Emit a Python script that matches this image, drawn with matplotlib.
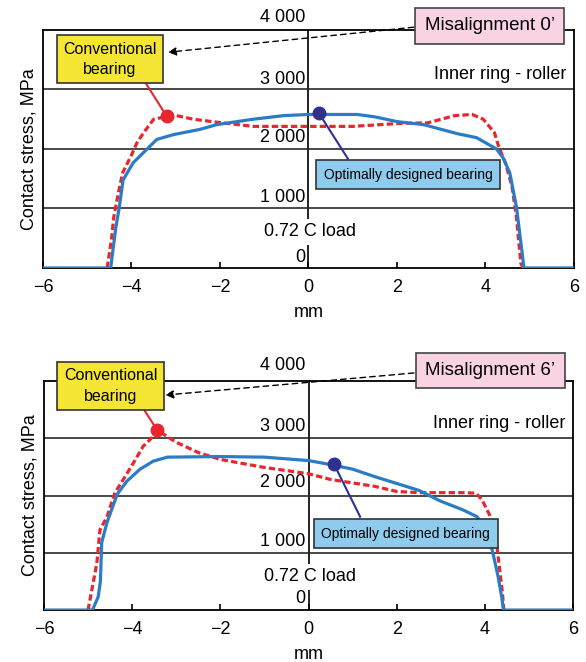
import matplotlib
matplotlib.use("Agg")
import matplotlib.pyplot as plt
from matplotlib import font_manager


def pick_font(*names):
    for name in names:
        try:
            font_manager.findfont(name, fallback_to_default=False)
            return name
        except Exception:
            pass
    return "DejaVu Sans"


MAIN_FONT = pick_font("Liberation Sans", "Arial")
plt.rcParams["font.family"] = [MAIN_FONT, "DejaVu Sans"]

# --- data, misalignment 0' ---
top_opt_x = [-6, -4.47, -4.42, -4.35, -4.28, -4.19, -3.96, -3.66, -3.43, -3.06, -2.45, -2.07, -1.25,
             -0.57, 0.0, 1.1, 1.5, 2.0, 2.6, 3.35, 3.8, 4.25, 4.4, 4.55, 4.7, 4.83, 4.87, 6]
top_opt_y = [0, 0, 300, 700, 1000, 1480, 1770, 1990, 2160, 2240, 2330, 2410, 2500,
             2560, 2580, 2580, 2540, 2460, 2410, 2260, 2190, 2000, 1850, 1600, 1030, 250, 0, 0]
top_conv_x = [-4.55, -4.45, -4.4, -4.3, -4.2, -4.0, -3.88, -3.73, -3.5, -3.2, -2.98, -2.6, -2.07,
              -1.25, 0.0, 1.0, 2.07, 2.7, 3.3, 3.7, 3.95, 4.2, 4.3, 4.45, 4.6, 4.7, 4.8, 4.85]
top_conv_y = [0, 500, 860, 1250, 1600, 1900, 2100, 2270, 2500, 2546, 2560, 2500, 2450,
              2380, 2380, 2380, 2430, 2440, 2560, 2580, 2500, 2280, 2040, 1770, 1370, 860, 80, 0]

# --- data, misalignment 6' ---
bot_opt_x = [-6, -4.9, -4.77, -4.72, -4.69, -4.57, -4.34, -4.12, -3.82, -3.52, -3.2, -2.0, -1.0,
             0.0, 0.5, 1.0, 1.5, 2.0, 2.5, 3.0, 3.5, 3.82, 4.05, 4.18, 4.3, 4.38, 4.42, 6]
bot_opt_y = [0, 0, 230, 500, 1180, 1530, 2020, 2250, 2460, 2600, 2670, 2680, 2670,
             2610, 2540, 2460, 2330, 2210, 2090, 1900, 1750, 1630, 1400, 1000, 580, 230, 0, 0]
bot_conv_x = [-5.0, -4.8, -4.73, -4.57, -4.39, -4.2, -3.97, -3.75, -3.59, -3.43, -3.0, -2.5, -2.0,
              -1.0, 0.0, 0.5, 1.0, 1.5, 2.0, 2.5, 3.0, 3.5, 3.8, 3.93, 4.1, 4.23, 4.3, 4.39, 4.43]
bot_conv_y = [0, 820, 1400, 1630, 2050, 2280, 2570, 2860, 2980, 3140, 2930, 2750, 2630,
              2490, 2380, 2280, 2220, 2160, 2070, 2050, 2050, 2050, 2040, 1930, 1670, 1400, 930, 350, 0]

x_ticks = [-6, -4, -2, 0, 2, 4, 6]
x_tick_labels = ["\u22126", "\u22124", "\u22122", "0", "2", "4", "6"]
y_levels = [1000, 2000, 3000, 4000]
y_level_labels = ["1 000", "2 000", "3 000", "4 000"]

BLUE = "#2b7cc6"
RED = "#e8262c"
NAVY = "#2e3192"

panels = [
    dict(rect=[0.0734, 0.5952, 0.906, 0.3595], misalign="Misalignment 0\u2019",
         opt=(top_opt_x, top_opt_y), conv=(top_conv_x, top_conv_y),
         label_y=[1180, 2190, 3170, 4216], load_y=607, zero_y=169,
         conv_box=(-4.49, 3508), mis_box=(4.10, 4072), arrow=((2.38, 4047), (-3.175, 3626)),
         red_dot=(-3.2, 2546), red_end=(-3.69, 3120),
         navy_dot=(0.24, 2597), navy_end=(0.89, 1838), opt_box=(2.25, 1568), inner_y=3255),
    dict(rect=[0.075, 0.0785, 0.903, 0.346], misalign="Misalignment 6\u2019",
         opt=(bot_opt_x, bot_opt_y), conv=(bot_conv_x, bot_conv_y),
         label_y=[1193, 2228, 3210, 4263], load_y=579, zero_y=210,
         conv_box=(-4.49, 3912), mis_box=(4.12, 4184), arrow=((2.39, 4140), (-3.25, 3754)),
         red_dot=(-3.43, 3140), red_end=(-3.71, 3474),
         navy_dot=(0.58, 2544), navy_end=(1.17, 1630), opt_box=(2.2, 1333), inner_y=3263),
]

fig = plt.figure(figsize=(5.86, 6.62), dpi=100)

for p in panels:
    ax = fig.add_axes(p["rect"])
    ax.set_xlim(-6, 6)
    ax.set_ylim(0, 4000)
    for s in ax.spines.values():
        s.set_linewidth(1.3)
    ax.set_yticks([])
    ax.set_xticks(x_ticks)
    ax.set_xticklabels(x_tick_labels)
    ax.tick_params(axis="x", direction="in", length=4, width=1.2, labelsize=13, pad=8)
    ax.set_xlabel("mm", fontsize=13, labelpad=6)
    ax.set_ylabel("Contact stress, MPa", fontsize=13, labelpad=4)

    for lvl in y_levels[:-1]:
        ax.axhline(lvl, color="#3a3a3a", lw=1.3, zorder=1)
    ax.axvline(0, color="#222222", lw=1.4, zorder=1)

    for lbl, ly in zip(y_level_labels, p["label_y"]):
        ax.text(-0.08, ly, lbl, ha="right", va="center", fontsize=13, clip_on=False, zorder=3)
    ax.text(0.03, p["load_y"], "0.72 C load", ha="center", va="center", fontsize=13, zorder=3,
            bbox=dict(facecolor="white", edgecolor="none", pad=3))
    ax.text(-0.19, p["zero_y"], "0", ha="center", va="center", fontsize=13, zorder=3)
    ax.text(5.82, p["inner_y"], "Inner ring - roller", ha="right", va="center", fontsize=13, zorder=3)

    ax.plot(*p["conv"], color=RED, lw=2.3, linestyle=(0, (2, 1)), zorder=4)
    ax.plot(*p["opt"], color=BLUE, lw=2.3, zorder=5)

    # callouts
    ax.plot([p["red_dot"][0], p["red_end"][0]], [p["red_dot"][1], p["red_end"][1]],
            color=RED, lw=1.5, zorder=6, clip_on=False)
    ax.plot(*p["red_dot"], "o", color=RED, ms=9, zorder=7)
    ax.plot([p["navy_dot"][0], p["navy_end"][0]], [p["navy_dot"][1], p["navy_end"][1]],
            color=NAVY, lw=1.5, zorder=6)
    ax.plot(*p["navy_dot"], "o", color=NAVY, ms=9, zorder=7)

    ax.text(*p["conv_box"], "Conventional\nbearing", ha="center", va="center", fontsize=11.5,
            linespacing=1.45, zorder=8, clip_on=False,
            bbox=dict(facecolor="#f5e535", edgecolor="#333333", lw=1.2, boxstyle="square,pad=0.4"))
    ax.text(*p["opt_box"], "Optimally designed bearing", ha="center", va="center", fontsize=10,
            zorder=8,
            bbox=dict(facecolor="#8fcbed", edgecolor="#333333", lw=1.2, boxstyle="square,pad=0.55"))
    ax.text(*p["mis_box"], p["misalign"], ha="center", va="center", fontsize=13.5, zorder=9,
            clip_on=False,
            bbox=dict(facecolor="#f9d3e3", edgecolor="#444444", lw=1.2, boxstyle="square,pad=0.5"))
    (x0, y0), (x1, y1) = p["arrow"]
    ax.annotate("", xy=(x1, y1), xytext=(x0, y0), annotation_clip=False, zorder=8,
                arrowprops=dict(arrowstyle="-|>", color="black", lw=1.0, linestyle=(0, (4, 3)),
                                mutation_scale=12, shrinkA=0, shrinkB=0))

fig.savefig("out.png", dpi=100)
